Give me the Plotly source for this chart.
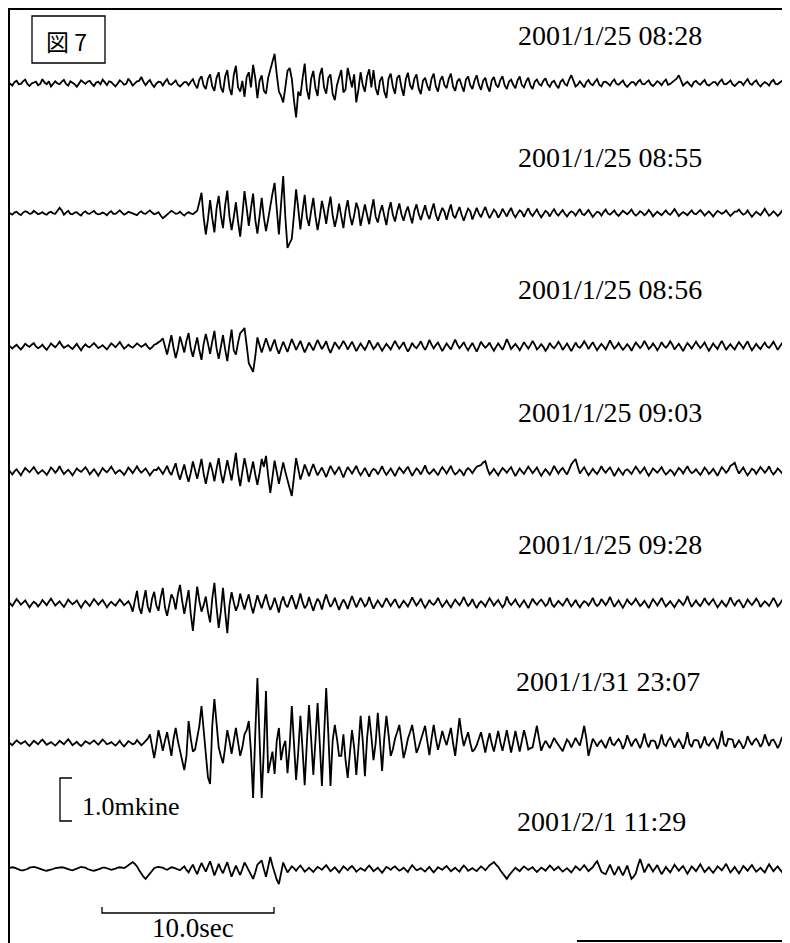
import plotly.graph_objects as go
import numpy as np

# ---------------- data ----------------
DT = 0.25        # seconds between main samples
AMP_UNIT = 0.01  # amplitudes below are in 0.01 mkine

labels = ["2001/1/25 08:28", "2001/1/25 08:55", "2001/1/25 08:56",
          "2001/1/25 09:03", "2001/1/25 09:28", "2001/1/31 23:07",
          "2001/2/1 11:29"]

# main samples (every DT) and in-between samples (at DT/2 offsets)
tr1 = [3,-6,5,-2,8,-7,2,-5,9,-3,
       -8,4,-3,7,-6,1,-9,6,-2,5,
       -7,3,8,-5,2,-8,6,-4,10,-6,
       4,14,-5,7,-9,3,-6,9,-4,6,
       -8,2,-5,9,-12,16,-14,20,-18,25,
       -22,30,-28,40,-20,-32,25,42,-35,18,
       -25,30,68,-20,-45,28,10,-80,-30,45,
       -38,28,-30,35,-25,20,-40,15,-22,35,
       -10,-45,25,-20,32,30,-28,15,-35,22,
       -25,18,-30,24,-15,20,-26,12,-18,22,
       -20,16,-12,22,-18,10,-20,15,-14,18,
       -16,12,-20,14,-10,16,-14,8,-12,15,
       -10,12,-14,8,-6,11,-9,5,-12,8,
       -6,18,-8,4,-10,7,-5,9,-8,3,
       -6,8,-4,6,-9,2,-5,7,-3,6,
       -7,4,-5,8,-2,5,18,-6,3,-8,
       5,-4,7,-6,2,-5,8,-3,6,-7,
       3,-5,9,-4,6,-8,2,-6,7,-3,
       5,-6,4]
mid1 = [-1,2,-3,4,-2,-1,3,-2,1,4,
        -2,-1,3,-2,4,-3,-1,2,3,-2,
        1,-3,2,4,-3,-1,2,-2,3,-1,
        5,3,2,-3,-1,2,3,-2,1,-4,
        -3,2,3,-4,8,-6,10,-8,12,-10,
        15,-12,18,-10,5,14,-10,12,5,-18,
        12,45,20,-30,-10,35,-40,-20,10,-15,
        10,-12,18,-10,12,-25,-5,30,-15,8,
        20,-15,-5,15,-10,-12,5,-20,10,-8,
        12,-10,8,-5,10,-12,5,-6,10,-8,
        6,-5,10,-8,4,-6,8,-5,6,-4,
        5,-8,6,-4,7,-5,3,-4,6,-5,
        4,-6,3,-2,5,-3,2,-5,3,-2,
        8,5,-4,-3,2,-2,3,-4,2,-1,
        3,-2,1,-4,-3,2,3,-2,2,-3,
        -2,1,3,-4,2,10,5,-1,-3,2,
        -1,2,-3,-2,2,3,-2,1,-3,-2,
        2,3,-1,2,-3,-2,-1,3,-2,1,
        -2,1]

tr2 = [2,-4,3,-5,4,-2,5,-3,2,-4,
       3,-2,12,-4,5,-3,2,-6,4,-2,
       5,-3,1,-5,4,-2,6,-4,3,-1,
       -5,4,-2,6,-3,2,-12,-4,5,-2,
       3,-6,2,-3,5,47,-50,30,-45,40,
       -35,52,-40,25,-55,51,-30,45,-48,35,
       -42,20,70,-50,86,-81,-60,55,-38,42,
       -30,35,-40,28,-25,38,-32,22,-35,30,
       -28,24,-30,20,-26,32,-22,18,-28,25,
       -20,22,-18,15,-24,20,-16,18,-14,22,
       -18,12,-16,20,-12,14,-18,10,-15,12,
       -10,14,-12,8,-11,10,-8,12,-10,6,
       -9,11,-7,8,-10,5,-8,9,-6,7,
       -8,4,-6,9,-5,7,-9,3,-6,8,
       -4,6,-7,5,-3,8,-6,4,-5,7,
       -8,3,-5,6,-4,9,-7,2,-5,6,
       -3,7,-6,4,-8,5,-2,6,-7,3,
       8,-4,6,-9,3,-5,10,-6,4,-7,
       5,-3,6]
mid2 = [-1,1,-2,1,2,-1,1,-1,-2,1,
        -1,5,6,1,-2,1,-3,1,-1,2,
        -1,-2,-1,1,-2,2,1,-1,1,-3,
        1,-1,2,1,-1,-6,-8,1,2,-1,
        -2,-1,-1,1,25,-10,-15,-12,10,-5,
        18,-8,-10,-20,-5,12,10,-15,-8,-10,
        -15,45,10,20,-10,-70,-5,10,5,-10,
        5,-8,-10,5,10,-5,-10,-8,5,-5,
        -6,8,-5,-4,6,-8,2,-6,5,-4,
        4,-3,2,-6,5,-2,1,-3,6,-4,
        -2,3,4,-5,2,-4,-3,4,-2,-1,
        3,-1,-2,2,-3,1,3,-2,-1,2,
        2,-1,1,-2,-3,1,2,-1,1,-2,
        -1,1,2,-2,1,-1,-3,1,2,-1,
        1,-2,-1,1,2,-1,-2,1,-1,1,
        -2,-1,1,-1,2,1,-2,-1,1,-1,
        2,1,-1,-2,-1,2,1,-1,-2,3,
        1,-1,-2,-3,-1,2,1,-2,-1,-2,
        1,2]

tr3 = [4,-6,3,-8,5,-2,7,-5,3,-9,
       6,-3,10,-4,2,-7,5,-10,4,-3,
       7,-5,2,-8,6,-3,9,-6,3,-4,
       6,-2,5,-7,3,8,18,-20,25,-28,
       22,-15,30,-25,20,-32,28,-18,35,-30,
       25,-35,38,-20,30,42,-40,-60,20,-15,
       18,-12,15,-18,10,-14,16,-9,12,-15,
       8,-10,14,-7,11,-16,9,-6,12,-8,
       10,-12,6,-9,13,-7,8,-11,5,-8,
       12,-6,9,-13,7,-5,11,-9,14,-6,
       8,-12,6,-8,15,-5,9,-10,7,-13,
       10,-4,8,-11,6,-9,16,-7,5,-10,
       9,-6,12,-8,4,-11,7,-5,10,-9,
       6,-12,8,-4,11,-7,9,-10,5,-8,
       13,-6,7,-9,4,-11,8,-5,12,-7,
       6,-10,9,-4,11,-8,5,-12,7,-6,
       10,-5,8,-11,6,-7,12,-9,4,-8,
       9,-6,11,-10,5,-7,8,-4,10,-9,
       6,-5,8]
mid3 = [-2,-1,-3,-2,1,3,-1,-2,-4,-2,
        1,3,2,-1,-3,-1,-3,-2,-1,2,
        1,-2,-3,-1,2,3,1,-2,-1,1,
        2,1,-2,-3,5,12,-5,3,-4,-8,
        4,12,-6,-2,-10,5,6,10,-5,-2,
        -8,5,-10,8,35,2,-50,-25,2,1,
        3,2,-5,-4,-2,1,4,1,-2,-4,
        -1,2,3,1,-5,-4,1,2,3,1,
        -1,-3,-2,1,3,-1,-2,-3,-1,2,
        2,1,-3,-4,-1,2,-1,1,3,2,
        -2,-3,-1,4,3,1,-2,-1,-3,-2,
        2,1,-3,-2,-1,2,5,-1,-2,-1,
        1,2,3,-3,-2,-4,-1,1,2,-2,
        -3,-2,-1,2,3,1,-1,-2,-1,2,
        3,-1,-2,-3,-2,-1,2,1,3,-2,
        -1,-2,1,2,3,-1,-3,-2,1,2,
        2,1,-2,-3,-1,3,2,-2,-3,1,
        2,3,-1,-3,-2,1,-1,2,1,-1,
        1,2]

tr4 = [5,-8,4,-10,7,-3,9,-6,2,-9,
       8,-4,11,-7,3,-10,6,-2,9,-8,
       4,-11,7,-3,10,-6,2,-9,8,-5,
       11,-4,6,-10,3,8,-7,12,-9,18,
       -20,15,-25,22,-18,28,-30,20,-24,30,
       -28,25,-22,42,-35,30,-26,22,-32,28,
       35,-51,24,-30,20,-25,-58,30,-20,15,
       -12,16,-10,8,-14,12,-7,10,-15,9,
       -6,12,-10,7,-13,5,-8,11,-9,6,
       -12,8,-5,10,-11,6,-8,13,-7,4,
       -10,9,-6,12,-8,3,-11,7,-5,10,
       14,23,-8,5,-10,7,-4,9,-12,6,
       -7,10,-5,8,-11,4,-9,12,-6,7,
       -8,15,28,-6,9,-10,5,-7,11,-4,
       8,-12,6,-9,4,-7,10,-5,8,-11,
       6,-4,9,-8,3,-10,7,-6,11,-5,
       4,-9,8,-7,5,-11,9,-4,12,19,
       -6,8,-10,5,-7,9,-4,11,-8,6,
       -5,10,-7]
mid4 = [-2,-1,-3,-1,2,3,1,-2,-3,-1,
        3,2,1,-2,-3,-2,1,3,2,-2,
        -3,-2,1,3,2,-1,-3,-1,2,3,
        2,1,-2,-3,2,1,2,-2,5,-5,
        -2,-8,-4,2,5,-6,-5,2,5,-5,
        -2,2,10,-5,-2,5,-2,-8,-5,10,
        -10,-15,-2,-5,-2,-40,-10,5,-4,2,
        3,2,-1,-3,-1,2,1,-3,-2,2,
        3,-1,-2,-3,-1,2,1,-1,-2,-3,
        -1,2,3,-1,-2,1,2,-1,-2,-3,
        1,2,3,-1,-4,-2,1,2,3,12,
        20,5,-2,-3,-1,2,3,-2,-3,-1,
        2,3,1,-2,-3,-2,1,3,2,-1,
        3,22,10,2,-1,-3,-2,1,2,3,
        -1,-3,-2,1,-1,2,3,1,-2,-3,
        1,2,-1,-3,-2,-1,2,3,1,-2,
        -3,-1,2,-2,-3,-1,3,2,15,5,
        1,-2,-3,2,1,3,2,-1,-2,1,
        3,2]

tr5 = [5,-7,9,-4,6,-10,3,-8,7,-5,
       10,-6,4,-9,8,-3,6,-11,5,-7,
       9,-4,7,-10,3,-6,8,-5,4,-20,
       28,-25,30,-22,26,-18,35,-30,20,-15,
       42,-25,30,-65,38,-20,15,-45,47,-58,
       35,-70,25,-18,22,-15,20,-24,18,-12,
       20,-16,12,-22,15,-10,18,-14,22,-12,
       14,-18,10,-15,20,-9,12,-16,8,-14,
       16,-10,12,-8,14,-13,6,-10,11,-7,
       9,-12,5,-8,13,-6,10,-11,7,-4,
       12,-9,6,-10,8,-5,14,-7,9,-12,
       4,-8,11,-6,7,-10,15,-5,8,-9,
       6,-12,10,-4,8,-7,13,-9,5,-6,
       11,-8,7,-10,4,-6,12,-7,9,-5,
       14,-9,6,-11,8,-4,10,-7,5,-12,
       9,-6,12,-8,4,-10,7,-5,16,-9,
       6,-7,11,-4,9,-10,5,-8,13,-6,
       7,-11,8,-5,10,-9,4,-7,12,-8,
       6,-5,9]
mid5 = [-2,1,3,1,-2,-3,-1,-2,1,3,
        2,-1,-3,-1,2,1,-3,-2,-1,1,
        3,2,-1,-3,-2,1,2,-1,-5,5,
        -10,5,-8,10,-6,12,-10,-5,10,20,
        5,2,-25,-10,5,-5,-20,10,-10,-20,
        -20,-5,2,-5,2,5,-5,-3,2,5,
        -2,-5,-4,2,-3,5,2,3,2,-5,
        -3,-2,2,5,3,-1,-3,-2,-1,2,
        3,1,2,-2,-1,-3,-2,1,2,1,
        -2,-3,-1,2,3,1,-2,-3,-1,2,
        1,-2,-3,-1,1,3,2,-1,-3,-2,
        -1,2,3,1,-2,-3,2,1,-2,-1,
        -3,-1,2,3,1,-2,-3,-2,-1,2,
        1,-1,-3,-2,1,2,-1,-2,2,3,
        2,-1,-3,-2,1,2,1,-2,-3,-1,
        2,3,1,-2,-3,-1,2,3,2,-1,
        -2,1,2,3,-1,-3,-2,1,2,3,
        -1,-2,1,2,3,-2,-1,2,3,-2,
        1,2]

tr6 = [3,-5,6,-2,4,-7,5,-3,8,-4,
       2,-6,5,-3,9,-5,3,-7,4,-2,
       6,-4,8,-3,2,-6,5,-8,4,-3,
       7,-5,4,
       20,-35,30,-18,25,-30,35,-20,
       -63,51,-20,10,86,-30,-95,102,-10,-47,
       30,-25,35,-30,20,51,-128,151,-128,121,-40,
       -72,35,-10,-70,86,-86,63,-98,88,-74,
       93,-100,128,-100,42,-30,20,-81,30,-74,
       63,-77,63,-40,70,-65,63,-30,
       10,42,-35,10,42,-23,8,40,-28,42,
       -16,28,-5,35,-30,58,-7,
       25,-20,-5,25,-22,23,-20,28,-18,30,
       -22,28,-20,30,-15,-10,40,-18,5,-12,
       12,-5,-19,8,-10,12,-6,40,-30,10,-8,
       6,-12,14,-5,9,-14,18,-8,10,-12,
       22,-10,6,-14,20,-7,12,-11,8,-13,
       25,-9,7,-12,15,-6,10,-14,28,-8,
       9,-11,6,-13,16,-5,10,-9,20,-7,
       8,-12,14,-6,10]
mid6 = [-1,1,2,1,-2,-1,1,3,2,-1,
        -2,-1,1,3,2,-1,-3,-2,1,2,
        1,2,3,-1,-2,-1,-3,-2,1,-1,
        1,-1,10,-10,-5,8,5,-2,10,5,
        -40,-30,10,-15,40,30,-80,40,50,-30,
        -10,5,5,2,-10,30,-20,20,10,-15,
        -70,-20,5,-40,5,-10,-10,-20,-15,0,
        10,5,0,15,20,5,10,-30,-40,-25,
        -10,-10,5,10,15,0,5,10,20,-15,
        25,5,-15,25,10,-10,25,5,10,10,
        5,10,15,0,15,20,10,0,-15,10,
        2,3,-2,4,2,5,3,2,4,5,
        10,-12,15,10,-5,-3,0,3,-10,-5,
        2,0,2,15,10,-10,2,1,-3,2,
        -2,3,1,-2,5,3,-1,2,1,5,
        3,-2,-2,5,2,0,-1,1,-2,6,
        5,-1,-2,3,1,2,-2,10,8,-1,
        -2,-3,4,5,2,0,5,6,-1,-2,
        3,2]

tr7 = [2,4,1,-3,-2,3,5,2,-1,-4,
       -2,2,4,3,-1,-3,1,5,3,-2,
       -4,-1,3,2,-2,1,4,2,8,16,
       6,-12,-23,-10,2,5,3,-2,4,1,
       -3,6,-8,10,-12,14,-6,18,-15,12,
       -10,16,-18,8,-14,15,-5,-23,10,20,
       -18,28,-12,-35,15,-8,6,-4,8,-6,
       3,-7,5,-2,9,-5,4,-8,6,-3,
       7,-6,2,-4,8,-5,3,-9,5,-2,
       6,-4,3,-7,9,-3,2,-6,5,-8,
       4,-2,7,-5,3,-6,8,-4,2,-5,
       6,-3,9,16,5,-10,-23,-8,3,-5,
       6,-2,4,-7,3,-4,8,-3,5,-6,
       2,-8,6,-3,9,-5,4,18,-6,-12,
       10,-14,6,-15,8,-23,-10,23,-8,12,
       -6,9,-12,5,-8,10,-4,7,-11,6,
       -5,11,-7,4,-9,6,-3,12,-8,5,
       -10,7,-4,9,-6,3,-8,11,-5,6,
       -7,14,-4]
mid7 = [3,3,-1,-3,0,4,4,0,-3,-3,
        0,3,4,1,-2,-1,3,4,0,-3,
        -3,1,3,0,-1,3,3,5,12,12,
        -3,-18,-17,-4,4,4,0,1,3,-1,
        2,-2,2,-2,2,4,6,2,-2,-1,
        4,-2,-5,-4,0,6,-15,-8,15,0,
        5,8,-25,-10,3,-1,2,3,1,-2,
        -2,-1,2,4,2,-1,-2,-1,2,3,
        1,-2,-1,3,2,-1,-3,-2,2,3,
        1,-1,-2,2,3,-1,-2,0,-2,-2,
        1,3,1,-1,-2,2,3,-1,-2,1,
        2,3,12,10,-3,-18,-15,-2,-1,1,
        2,1,-2,-2,0,2,3,1,-1,-2,
        -3,-1,2,3,2,0,12,6,-10,-1,
        -2,-5,-5,-4,-8,-18,8,8,2,3,
        2,-2,-4,-2,1,3,2,-2,-3,1,
        3,2,-2,-3,-2,2,4,2,-2,-3,
        -2,2,3,1,-2,-3,2,3,1,-1,
        4,5]

series = [(tr1, mid1), (tr2, mid2), (tr3, mid3), (tr4, mid4),
          (tr5, mid5), (tr6, mid6), (tr7, mid7)]

SCALE_AMP = 1.0    # mkine
SCALE_TIME = 10.0  # sec

# ---------------- layout constants (reference page pixels) ----------------
PAGE_W, PAGE_H = 790, 943
OFF = 8                      # default page body margin
W, H = PAGE_W - OFF, PAGE_H - OFF
PX_PER_SEC = 17.2
PX_PER_MKINE = 43.0
X0_PX = 8
baseline_px = [83, 213, 346, 471, 603, 743, 869]
label_pos = [(610, 36), (610, 157), (610, 289), (610, 413),
             (610, 544), (608, 681), (601, 821)]

def px2t(px):
    return (px - X0_PX) / PX_PER_SEC

def py2a(py):
    return -py / PX_PER_MKINE

def pxp(px):
    return (px - OFF) / W

def pyp(py):
    return 1 - (py - OFF) / H

def interleave(main, mid):
    n = min(len(main) - 1, len(mid))
    out = []
    for i in range(n):
        out.append(main[i])
        out.append(mid[i])
    out.extend(main[n:])
    return np.array(out, dtype=float)

fig = go.Figure()
for (main, mid), base in zip(series, baseline_px):
    v = interleave(main, mid) * AMP_UNIT
    t = np.arange(len(v)) * (DT / 2)
    fig.add_trace(go.Scatter(x=t, y=py2a(base) + v, mode="lines",
                             line=dict(color="black", width=1.8),
                             hoverinfo="skip"))

serif = "Liberation Serif"
annotations = []
for text, (px, py) in zip(labels, label_pos):
    annotations.append(dict(text=text, x=pxp(px), y=pyp(py), xref="paper", yref="paper",
                            xanchor="center", yanchor="middle", showarrow=False,
                            font=dict(family=serif, size=28, color="black")))
annotations.append(dict(text="図 7", x=pxp(66), y=pyp(41), xref="paper", yref="paper",
                        xanchor="center", yanchor="middle", showarrow=False,
                        font=dict(family="Noto Sans CJK JP", size=23, color="black")))
annotations.append(dict(text="1.0mkine", x=pxp(80), y=pyp(806), xref="paper", yref="paper",
                        xanchor="left", yanchor="middle", showarrow=False,
                        font=dict(family=serif, size=26, color="black")))
annotations.append(dict(text="10.0sec", x=pxp(193), y=pyp(928), xref="paper", yref="paper",
                        xanchor="center", yanchor="middle", showarrow=False,
                        font=dict(family=serif, size=27, color="black")))

shapes = []
# frame
shapes.append(dict(type="line", xref="paper", yref="paper", x0=pxp(9), x1=pxp(9),
                   y0=pyp(8), y1=pyp(PAGE_H), line=dict(color="black", width=2)))
shapes.append(dict(type="line", xref="paper", yref="paper", x0=pxp(8), x1=pxp(PAGE_W),
                   y0=pyp(9), y1=pyp(9), line=dict(color="black", width=2)))
shapes.append(dict(type="line", xref="paper", yref="paper", x0=pxp(577), x1=pxp(PAGE_W),
                   y0=pyp(941), y1=pyp(941), line=dict(color="black", width=2)))
# figure-number box
shapes.append(dict(type="rect", xref="paper", yref="paper", x0=pxp(32), x1=pxp(105),
                   y0=pyp(16), y1=pyp(63), line=dict(color="black", width=1.3)))
# amplitude scale bracket (1.0 mkine)
a_bot = py2a(821)
a_top = a_bot + SCALE_AMP
tb = px2t(60)
tick = 12 / PX_PER_SEC
shapes.append(dict(type="path", xref="x", yref="y",
                   path=f"M {tb + tick},{a_top} L {tb},{a_top} L {tb},{a_bot} L {tb + tick},{a_bot}",
                   line=dict(color="black", width=1.3)))
# time scale bar (10.0 sec)
t0 = px2t(102)
t1 = t0 + SCALE_TIME
yb = py2a(913)
yt = py2a(907)
shapes.append(dict(type="path", xref="x", yref="y",
                   path=f"M {t0},{yt} L {t0},{yb} L {t1},{yb} L {t1},{yt}",
                   line=dict(color="black", width=1.3)))

fig.update_layout(
    width=W, height=H, margin=dict(l=0, r=0, t=0, b=0),
    paper_bgcolor="white", plot_bgcolor="white", showlegend=False,
    xaxis=dict(visible=False, range=[px2t(OFF), px2t(PAGE_W)], fixedrange=True),
    yaxis=dict(visible=False, range=[py2a(PAGE_H), py2a(OFF)], fixedrange=True),
    annotations=annotations, shapes=shapes,
)

fig.write_html("out.html")
